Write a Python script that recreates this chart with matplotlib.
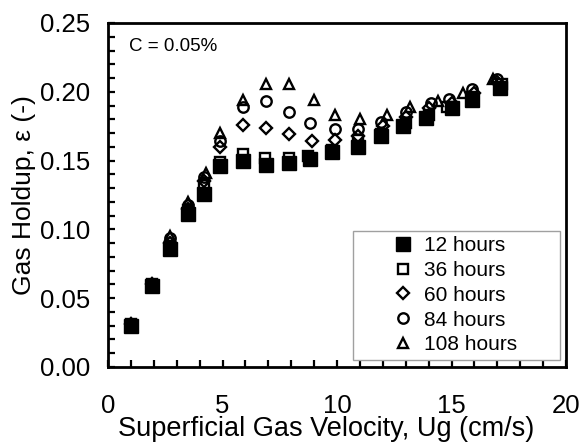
import matplotlib
matplotlib.use("Agg")
import matplotlib.pyplot as plt
from matplotlib.patches import Rectangle
from matplotlib.ticker import MultipleLocator, FormatStrFormatter

plt.rcParams['font.family'] = ['Liberation Sans', 'DejaVu Sans']

# ---- data ----
ug_12 = [1.0, 1.9, 2.7, 3.5, 4.2, 4.9, 5.9, 6.9, 7.9, 8.8, 9.8, 10.9, 11.9, 12.9, 13.9, 15.0, 15.9, 17.1]
eps_12 = [0.030, 0.059, 0.086, 0.111, 0.126, 0.146, 0.150, 0.147, 0.148, 0.151, 0.156, 0.160, 0.168, 0.175, 0.181, 0.188, 0.194, 0.203]

ug_36 = [1.0, 1.9, 2.7, 3.5, 4.2, 4.9, 5.9, 6.85, 7.9, 8.75, 9.8, 10.9, 11.9, 13.0, 14.0, 14.8, 15.9, 17.2]
eps_36 = [0.031, 0.060, 0.088, 0.114, 0.132, 0.149, 0.155, 0.152, 0.152, 0.153, 0.158, 0.165, 0.169, 0.177, 0.183, 0.189, 0.196, 0.206]

ug_60 = [1.0, 1.9, 2.7, 3.5, 4.2, 4.9, 5.9, 6.9, 7.9, 8.9, 9.9, 10.9, 12.0, 13.0, 14.0, 15.0, 16.0, 17.0]
eps_60 = [0.031, 0.060, 0.090, 0.115, 0.135, 0.160, 0.176, 0.174, 0.169, 0.164, 0.165, 0.168, 0.175, 0.182, 0.188, 0.192, 0.199, 0.207]

ug_84 = [1.0, 1.9, 2.7, 3.5, 4.2, 4.9, 5.9, 6.9, 7.9, 8.8, 9.9, 10.9, 11.9, 13.0, 14.1, 14.9, 15.9, 17.0]
eps_84 = [0.031, 0.060, 0.094, 0.118, 0.138, 0.164, 0.189, 0.193, 0.185, 0.177, 0.173, 0.173, 0.178, 0.185, 0.192, 0.195, 0.202, 0.209]

ug_108 = [1.0, 1.9, 2.7, 3.5, 4.3, 4.9, 5.9, 6.9, 7.9, 9.0, 9.9, 11.0, 12.2, 13.2, 14.4, 15.5, 16.8]
eps_108 = [0.031, 0.060, 0.095, 0.120, 0.141, 0.170, 0.194, 0.206, 0.206, 0.194, 0.183, 0.180, 0.183, 0.189, 0.193, 0.199, 0.209]

labels = ['12 hours', '36 hours', '60 hours', '84 hours', '108 hours']

# ---- figure ----
fig = plt.figure(figsize=(5.83, 4.43), dpi=100)
ax = fig.add_axes([108/583, 76/443, 458/583, 344/443])

open_kw = dict(ls='none', mfc='none', mec='black', mew=1.7)
h108, = ax.plot(ug_108, eps_108, marker='^', ms=7.5, label=labels[4], zorder=3, **open_kw)
h84, = ax.plot(ug_84, eps_84, marker='o', ms=7.5, label=labels[3], zorder=4, **open_kw)
h60, = ax.plot(ug_60, eps_60, marker='D', ms=5.8, label=labels[2], zorder=5, **open_kw)
h36, = ax.plot(ug_36, eps_36, marker='s', ms=7, label=labels[1], zorder=6, **open_kw)
h12, = ax.plot(ug_12, eps_12, marker='s', ms=9.5, ls='none', color='black', label=labels[0], zorder=7)

ax.set_xlim(0, 20)
ax.set_ylim(0, 0.25)
ax.xaxis.set_major_locator(MultipleLocator(5))
ax.xaxis.set_minor_locator(MultipleLocator(1))
ax.yaxis.set_major_locator(MultipleLocator(0.05))
ax.yaxis.set_minor_locator(MultipleLocator(0.01))
ax.yaxis.set_major_formatter(FormatStrFormatter('%.2f'))

for s in ax.spines.values():
    s.set_linewidth(2.0)

ax.tick_params(axis='x', which='both', direction='in', length=5, width=1.6, top=False, labelsize=18.5, pad=19.5)
ax.tick_params(axis='y', which='both', direction='in', length=5, width=1.6, right=False, labelsize=18.5, pad=13)

ax.set_xlabel('Superficial Gas Velocity, Ug (cm/s)', fontsize=19.5)
ax.xaxis.set_label_coords((326 - 108)/458, (367 - 416)/344)
ax.set_ylabel('Gas Holdup, \u03b5 (-)', fontsize=19, labelpad=3)

ax.text(0.045, 0.955, 'C = 0.05%', transform=ax.transAxes, fontsize=13.5, va='top', ha='left')

# legend frame
ax.add_patch(Rectangle(((353-108)/458, (367-360)/344), (560-353)/458, (360-231)/344,
                       transform=ax.transAxes, fill=True, facecolor='white',
                       edgecolor='#a0a0a0', lw=1.0, zorder=8))
leg = ax.legend(handles=[h12, h36, h60, h84, h108], loc='upper left',
                bbox_to_anchor=((393 - 108)/458, (367-236)/344), frameon=False,
                fontsize=15, handlelength=0.95, handletextpad=0.55,
                labelspacing=0.28, borderpad=0, borderaxespad=0)
leg.set_zorder(9)

fig.savefig('out.png', dpi=100)
